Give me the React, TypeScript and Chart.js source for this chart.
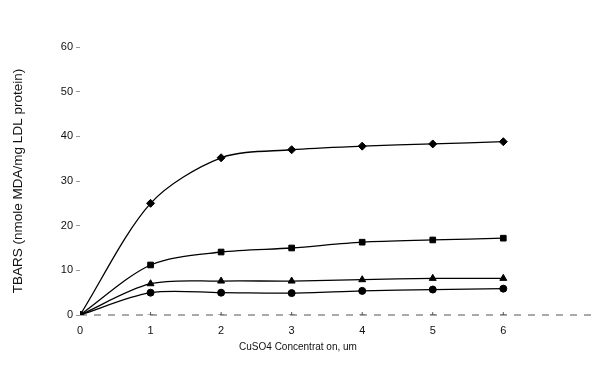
import React, { useEffect, useRef } from "react";
import { Chart, registerables } from "chart.js";

Chart.register(...registerables);

const concentrations = [0, 1, 2, 3, 4, 5, 6];
const seriesDiamond = [0, 25, 35.2, 37, 37.8, 38.3, 38.8];
const seriesSquare = [0, 11.2, 14.1, 15, 16.3, 16.8, 17.2];
const seriesTriangle = [0, 7, 7.6, 7.6, 7.9, 8.2, 8.2];
const seriesCircle = [0, 5, 5, 4.9, 5.4, 5.7, 5.9];
const seriesControl = [0, 0, 0, 0, 0, 0, 0];
const baselineX = [0, 7.33];
const yTicks = [0, 10, 20, 30, 40, 50, 60];
const xTickLabels = ["0", "1", "2", "3", "4", "5", "6"];

const toPoints = (vals: number[]) => vals.map((v, i) => ({ x: concentrations[i], y: v }));

export default function App() {
  const ref = useRef<HTMLCanvasElement | null>(null);
  useEffect(() => {
    if (!ref.current) return;
    const font = { family: "'Liberation Sans', Arial, sans-serif", size: 11 };
    const mk = (data: number[], style: any, radius: number, order: number) => ({
      data: toPoints(data),
      borderColor: "#000",
      backgroundColor: "#000",
      borderWidth: 1.3,
      pointStyle: style,
      pointRadius: radius,
      pointBorderWidth: 1,
      pointBackgroundColor: "#000",
      pointBorderColor: "#000",
      tension: 0.3,
      order,
    });
    const chart = new Chart(ref.current, {
      type: "line",
      data: {
        datasets: [
          {
            data: baselineX.map((x) => ({ x, y: 0 })),
            borderColor: "#555",
            borderWidth: 1,
            borderDash: [7, 7],
            pointRadius: 0,
            clip: false,
            order: 12,
          } as any,
          {
            data: toPoints(seriesControl).slice(1),
            showLine: false,
            pointStyle: "cross",
            pointRadius: 3,
            borderColor: "#555",
            pointBorderColor: "#555",
            pointBorderWidth: 1,
            order: 10,
          } as any,
          mk(seriesCircle, "circle", 3.5, 5),
          mk(seriesTriangle, "triangle", 4, 4),
          mk(seriesDiamond, "rectRot", 4, 3),
          mk(seriesSquare, "rect", 4, 1),
        ],
      },
      options: {
        animation: false,
        responsive: false,
        layout: { padding: { top: 47, right: 81, bottom: 0, left: 0 } },
        plugins: { legend: { display: false }, tooltip: { enabled: false } },
        scales: {
          x: {
            type: "linear",
            min: 0,
            max: 6.18,
            afterBuildTicks: (s: any) => {
              s.ticks = concentrations.map((v) => ({ value: v }));
            },
            afterFit: (s: any) => {
              s.height = 65;
            },
            ticks: {
              color: "#111",
              font,
              padding: 9,
              maxRotation: 0,
              callback: (v: any) => xTickLabels[concentrations.indexOf(Number(v))] ?? "",
            },
            grid: { display: false, drawTicks: false },
            border: { display: false },
            title: {
              display: true,
              text: "CuSO4 Concentrat on, um",
              color: "#111",
              font: { family: font.family, size: 10 },
              padding: { top: 0, bottom: 27 },
            },
          },
          y: {
            min: 0,
            max: 60,
            afterBuildTicks: (s: any) => {
              s.ticks = yTicks.map((v) => ({ value: v }));
            },
            afterFit: (s: any) => {
              s.width = 80;
            },
            ticks: { color: "#111", font, padding: 3 },
            grid: { drawOnChartArea: false, drawTicks: true, tickLength: 4, color: "#999" },
            border: { display: false },
            title: {
              display: true,
              text: "TBARS (nmole MDA/mg LDL protein)",
              color: "#111",
              font: { family: font.family, size: 13.5 },
              padding: { top: 10, bottom: 4 },
            },
          },
        },
      },
    });
    return () => chart.destroy();
  }, []);
  return (
    <div style={{ position: "absolute", left: 0, top: 0, width: 597, height: 380, background: "#fff" }}>
      <canvas ref={ref} width={597} height={380} style={{ width: 597, height: 380 }} />
    </div>
  );
}
